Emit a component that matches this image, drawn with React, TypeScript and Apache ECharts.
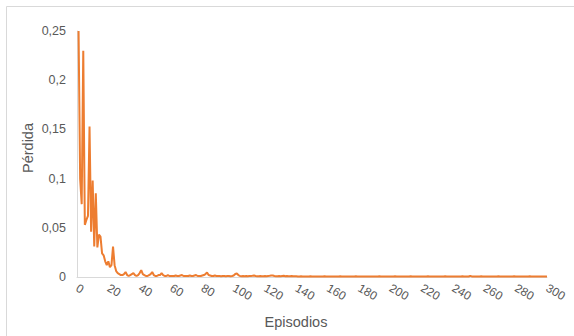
import React, { useEffect, useRef } from "react";
import * as echarts from "echarts";

const xTicks = [0, 20, 40, 60, 80, 100, 120, 140, 160, 180, 200, 220, 240, 260, 280, 300];
const yTicks = [0, 0.05, 0.1, 0.15, 0.2, 0.25];

// loss per episode, episodes 1..300
const lossEarly = [
  0.25, 0.1, 0.074, 0.23, 0.053, 0.058, 0.062, 0.153, 0.046, 0.098,
  0.031, 0.085, 0.03, 0.043, 0.041, 0.024, 0.022, 0.016, 0.012, 0.016,
  0.01, 0.012, 0.031, 0.012, 0.006, 0.004, 0.003, 0.002, 0.002, 0.003,
  0.005, 0.002, 0.001, 0.002, 0.003, 0.004, 0.002, 0.001, 0.002, 0.004,
  0.007, 0.003, 0.002, 0.001, 0.001, 0.002, 0.003, 0.005, 0.002, 0.001,
  0.001, 0.002, 0.002, 0.004, 0.002, 0.001, 0.001, 0.002, 0.001, 0.001,
];
const lossMid = [
  0.001, 0.001, 0.0015, 0.001, 0.001, 0.0015, 0.002, 0.001, 0.001, 0.001,
  0.001, 0.0015, 0.001, 0.001, 0.0015, 0.002, 0.001, 0.001, 0.001, 0.0015,
  0.002, 0.003, 0.0045, 0.002, 0.0015, 0.001, 0.001, 0.0015, 0.001, 0.001,
  0.001, 0.0008, 0.001, 0.001, 0.0008, 0.001, 0.001, 0.0008, 0.001, 0.0015,
  0.003, 0.0035, 0.002, 0.001, 0.0008, 0.001, 0.0008, 0.001, 0.0008, 0.001,
  0.001, 0.0012, 0.0015, 0.001, 0.0008, 0.0008, 0.001, 0.0008, 0.0008, 0.001,
  0.0008, 0.001, 0.0012, 0.0015, 0.0015, 0.001, 0.0008, 0.0008, 0.001, 0.0008,
  0.001, 0.0012, 0.0008, 0.001, 0.0008, 0.0008, 0.001, 0.0008, 0.0008, 0.0008,
];
const lossLate = [
  0.0006, 0.0005, 0.0007, 0.0005, 0.0005, 0.0006, 0.0005, 0.0005, 0.0007, 0.0005, 0.0005, 0.0006, 0.0005, 0.0005, 0.0005, 0.0006,
  0.0005, 0.0007, 0.0005, 0.0005, 0.0005, 0.0006, 0.0005, 0.0005, 0.0006, 0.0005, 0.0005, 0.0007, 0.0005, 0.0005, 0.0006, 0.0005,
  0.0005, 0.0005, 0.0006, 0.0005, 0.0005, 0.0007, 0.0005, 0.0005, 0.0005, 0.0006, 0.0005, 0.0005, 0.0005, 0.0006, 0.0005, 0.0005,
  0.0006, 0.0005, 0.0005, 0.0005, 0.0007, 0.0005, 0.0005, 0.0006, 0.0005, 0.0005, 0.0005, 0.0006, 0.0005, 0.0005, 0.0007, 0.0005,
  0.0005, 0.0006, 0.0005, 0.0005, 0.0005, 0.0006, 0.0005, 0.0005, 0.0007, 0.0005, 0.0005, 0.0005, 0.0006, 0.0005, 0.0005, 0.0005,
  0.0006, 0.0005, 0.0005, 0.0007, 0.0005, 0.0005, 0.0006, 0.0005, 0.0005, 0.0005, 0.0006, 0.0005, 0.0005, 0.0005, 0.0007, 0.0005,
  0.0005, 0.0006, 0.0005, 0.0005, 0.0005, 0.0006, 0.0005, 0.0005, 0.0005, 0.0007, 0.0005, 0.0005, 0.0006, 0.0005, 0.0012, 0.0006,
  0.0005, 0.0005, 0.0006, 0.0005, 0.0005, 0.0007, 0.0005, 0.0005, 0.0005, 0.0006, 0.0005, 0.0005, 0.0005, 0.0006, 0.0005, 0.0005,
  0.0007, 0.0005, 0.0005, 0.0006, 0.0005, 0.0005, 0.0005, 0.0006, 0.0005, 0.0005, 0.0007, 0.0005, 0.0005, 0.0005, 0.0006, 0.0005,
  0.0005, 0.0006, 0.0005, 0.0005, 0.0007, 0.0005, 0.0005, 0.0005, 0.0006, 0.0005, 0.0005, 0.0006, 0.0005, 0.0005, 0.0005, 0.0006,
];
const lossValues = [...lossEarly, ...lossMid, ...lossLate];

const xTitle = "Episodios";
const yTitle = "Pérdida";

export default function App() {
  const ref = useRef<HTMLDivElement>(null);
  useEffect(() => {
    if (!ref.current) return;
    const chart = echarts.init(ref.current, null, { renderer: "svg" });
    const data = lossValues.map((v, i) => [i + 1, v]);
    const font = "Liberation Sans, Arial, sans-serif";
    chart.setOption({
      animation: false,
      backgroundColor: "#ffffff",
      grid: { left: 77, right: 27, top: 31, bottom: 59, containLabel: false },
      xAxis: {
        type: "value",
        min: xTicks[0],
        max: xTicks[xTicks.length - 1],
        interval: 20,
        axisLine: { show: true, lineStyle: { color: "#d9d9d9", width: 1 } },
        axisTick: { show: false },
        splitLine: { show: false },
        axisLabel: {
          rotate: -30,
          margin: 10,
          color: "#595959",
          fontSize: 12,
          fontFamily: font,
          formatter: (v: number) => String(v),
        },
      },
      yAxis: {
        type: "value",
        min: yTicks[0],
        max: yTicks[yTicks.length - 1],
        interval: 0.05,
        axisLine: { show: true, lineStyle: { color: "#d9d9d9", width: 1 } },
        axisTick: { show: false },
        splitLine: { show: false },
        axisLabel: {
          margin: 11,
          color: "#595959",
          fontSize: 12.5,
          fontFamily: font,
          formatter: (v: number) => (v === 0 ? "0" : String(Math.round(v * 100) / 100).replace(".", ",")),
        },
      },
      series: [
        {
          type: "line",
          data,
          showSymbol: false,
          symbol: "none",
          lineStyle: { color: "#ED7D31", width: 2 },
          itemStyle: { color: "#ED7D31" },
        },
      ],
      graphic: [
        {
          type: "rect",
          shape: { x: 6.5, y: 6.5, width: 700, height: 500 },
          style: { fill: "none", stroke: "#d9d9d9", lineWidth: 1 },
          silent: true,
          z: -1,
        },
        {
          type: "text",
          x: 296,
          y: 322,
          style: {
            text: xTitle,
            fill: "#595959",
            font: `14.5px ${font}`,
            textAlign: "center",
            textVerticalAlign: "middle",
          },
        },
        {
          type: "text",
          x: 28,
          y: 148,
          rotation: Math.PI / 2,
          style: {
            text: yTitle,
            fill: "#595959",
            font: `14.5px ${font}`,
            textAlign: "center",
            textVerticalAlign: "middle",
          },
        },
      ],
    });
    return () => chart.dispose();
  }, []);
  return (
    <div
      ref={ref}
      style={{ position: "fixed", left: 0, top: 0, width: 574, height: 336 }}
    />
  );
}
